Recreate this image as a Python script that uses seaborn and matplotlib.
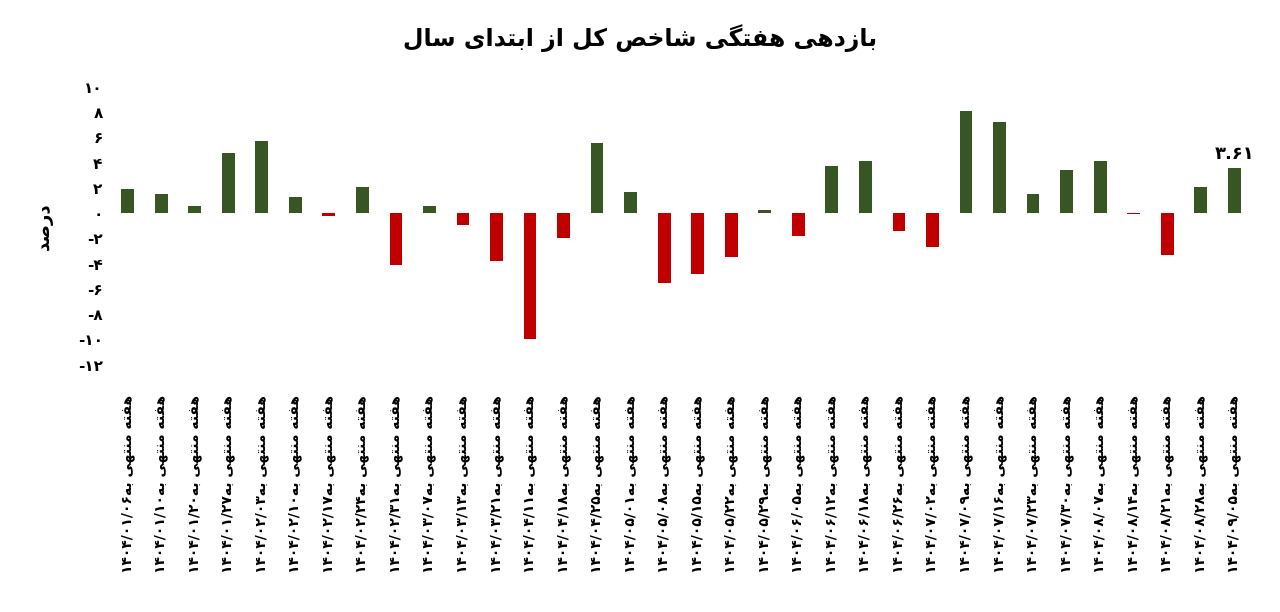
import matplotlib
matplotlib.use("Agg")
import matplotlib.pyplot as plt
import seaborn as sns
import pandas as pd
from matplotlib.ticker import FuncFormatter, MultipleLocator

dates = ["01/06","01/10","01/20","01/27","02/03","02/10","02/17","02/24","02/31","03/07",
         "03/13","03/21","04/11","04/18","04/25","05/01","05/08","05/15","05/22","05/29",
         "06/05","06/12","06/18","06/26","07/02","07/09","07/16","07/23","07/30","08/07",
         "08/14","08/21","08/28","09/05"]
values = [1.95,1.5,0.55,4.8,5.7,1.25,-0.25,2.05,-4.1,0.55,
          -0.9,-3.8,-10.0,-2.0,5.55,1.7,-5.55,-4.85,-3.5,0.25,
          -1.8,3.75,4.15,-1.4,-2.65,8.1,7.25,1.55,3.45,4.15,
          -0.1,-3.3,2.1,3.61]
title_text = "بازدهی هفتگی شاخص کل از ابتدای سال"
ylabel_text = "درصد"
prefix_text = "هفته منتهی به"

FORMS = {
    'ا': (0xFE8D, 0xFE8E, None, None), 'ب': (0xFE8F, 0xFE90, 0xFE91, 0xFE92),
    'ت': (0xFE95, 0xFE96, 0xFE97, 0xFE98), 'خ': (0xFEA5, 0xFEA6, 0xFEA7, 0xFEA8),
    'د': (0xFEA9, 0xFEAA, None, None), 'ر': (0xFEAD, 0xFEAE, None, None),
    'ز': (0xFEAF, 0xFEB0, None, None), 'س': (0xFEB1, 0xFEB2, 0xFEB3, 0xFEB4),
    'ش': (0xFEB5, 0xFEB6, 0xFEB7, 0xFEB8), 'ص': (0xFEB9, 0xFEBA, 0xFEBB, 0xFEBC),
    'ف': (0xFED1, 0xFED2, 0xFED3, 0xFED4), 'ل': (0xFEDD, 0xFEDE, 0xFEDF, 0xFEE0),
    'م': (0xFEE1, 0xFEE2, 0xFEE3, 0xFEE4), 'ن': (0xFEE5, 0xFEE6, 0xFEE7, 0xFEE8),
    'ه': (0xFEE9, 0xFEEA, 0xFEEB, 0xFEEC), 'ی': (0xFBFC, 0xFBFD, 0xFBFE, 0xFBFF),
    'ک': (0xFB8E, 0xFB8F, 0xFB90, 0xFB91), 'گ': (0xFB92, 0xFB93, 0xFB94, 0xFB95),
}

def shape(s):
    out = []
    for i, c in enumerate(s):
        if c not in FORMS:
            out.append(c); continue
        prev = s[i-1] if i > 0 else ''
        nxt = s[i+1] if i+1 < len(s) else ''
        jp = prev in FORMS and FORMS[prev][2] is not None
        jn = nxt in FORMS and FORMS[c][2] is not None
        iso, fin, ini, med = FORMS[c]
        if jp and jn: code = med
        elif jp: code = fin
        elif jn: code = ini
        else: code = iso
        out.append(chr(code))
    return ''.join(out)[::-1]

PD = str.maketrans("0123456789.", "۰۱۲۳۴۵۶۷۸۹.")
def fa(s):
    return s.translate(PD)

labels = [fa("1404/" + d) + shape(prefix_text) for d in dates]
df = pd.DataFrame({"label": labels, "value": values,
                   "sign": ["pos" if v >= 0 else "neg" for v in values]})

plt.rcParams['font.family'] = ['DejaVu Sans']
fig = plt.figure(figsize=(12.8, 6.12), dpi=100)
ax = fig.add_axes([0.084, 0.404, 0.896, 0.454])
sns.barplot(data=df, x="label", y="value", hue="sign",
            palette={"pos": "#375623", "neg": "#C00000"}, width=0.38,
            saturation=1, dodge=False, legend=False, ax=ax)
ax.set_ylim(-12, 10)
ax.yaxis.set_major_locator(MultipleLocator(2))
def yfmt(v, p):
    v = int(round(v))
    return ("-" + fa(str(-v))) if v < 0 else fa(str(v))
ax.yaxis.set_major_formatter(FuncFormatter(yfmt))
ax.set_xlabel("")
ax.set_ylabel(shape(ylabel_text), fontsize=13, fontweight="bold", labelpad=18)
for s in ax.spines.values():
    s.set_visible(False)
ax.tick_params(axis="both", length=0)
ax.tick_params(axis="x", labelrotation=90, labelsize=10, pad=22)
ax.tick_params(axis="y", labelsize=11)
for t in ax.get_xticklabels() + ax.get_yticklabels():
    t.set_fontweight("bold")
ax.set_xlim(-0.6, len(values) - 0.4)
ax.text(len(values) - 1, values[-1] + 0.4, fa("%.2f" % values[-1]),
        ha="center", va="bottom", fontsize=13, fontweight="bold")
fig.suptitle(shape(title_text), fontsize=17, fontweight="bold", y=0.96)
fig.savefig("out.png", dpi=100, facecolor="white")
